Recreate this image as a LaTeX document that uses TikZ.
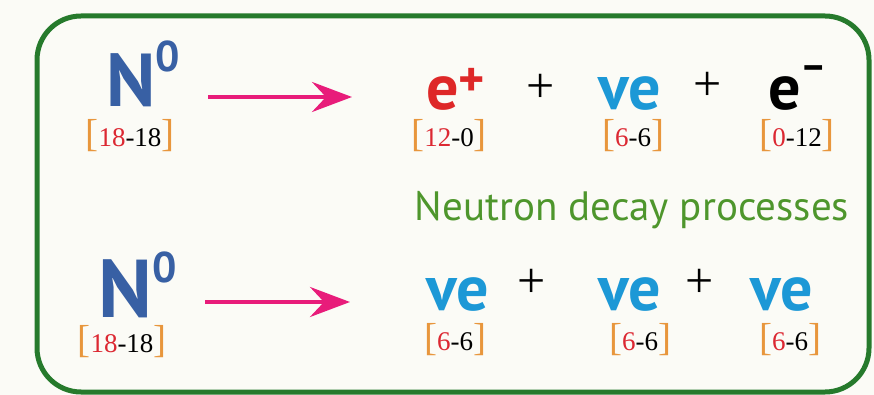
\documentclass[tikz,border=0pt]{standalone}
\usepackage{fontspec}
\setsansfont{PT Sans}
\setmainfont{Liberation Serif}
\usetikzlibrary{calc, positioning}
\usetikzlibrary{arrows.meta}

\definecolor{paper}{RGB}{251,251,246}
\definecolor{framegreen}{RGB}{38,122,44}
\definecolor{titlegreen}{RGB}{78,150,44}
\definecolor{nblue}{RGB}{56,96,164}
\definecolor{nucyan}{RGB}{28,152,214}
\definecolor{posred}{RGB}{222,40,40}
\definecolor{arrowpink}{RGB}{232,28,122}
\definecolor{brorange}{RGB}{232,150,60}
\definecolor{chred}{RGB}{220,40,50}

\newcommand{\charge}[2]{{\fontsize{39}{39}\selectfont\color{brorange}[}%
{\fontsize{27}{27}\selectfont\color{chred}#1\color{black}-#2}%
{\fontsize{39}{39}\selectfont\color{brorange}]}}
\newcommand{\neutron}{{\sffamily\bfseries\color{nblue}N\raisebox{35pt}{\fontsize{43}{43}\selectfont 0}}}
\newcommand{\nue}{{\sffamily\bfseries\color{nucyan}ve}}
\newcommand{\plussign}{{\rmfamily +}}

\tikzset{
  particle/.style={inner sep=0pt, anchor=base west, text depth=0pt, font=\fontsize{64}{64}\selectfont},
  chargelbl/.style={inner sep=0pt, anchor=base, text height=27pt},
  opsign/.style={inner sep=0pt, font=\fontsize{50}{50}\selectfont},
  decay/.style={line width=4pt, arrowpink, -{Stealth[length=40pt, width=30pt, inset=14pt]}},
  frame/.style={line width=5pt, framegreen, rounded corners=44pt}
}

\begin{document}
\begin{tikzpicture}[x=1pt, y=-1pt]
\fill[paper] (0,0) rectangle (874,395);
\useasboundingbox (0,0) rectangle (874,395);

\draw[frame] (37,16) rectangle (869,392);

% first decay
\node[particle, font=\fontsize{75}{75}\selectfont] (nA) at (106,107) {\neutron};
\node[chargelbl] (nAq) at (130,147) {\charge{18}{18}};
\coordinate (a1s) at (208,97);
\coordinate (a1e) at (352,97);
\draw[decay] (a1s) -- (a1e);

\node[particle] (pos) at (426,110) {{\sffamily\bfseries\color{posred}e\raisebox{13pt}{\fontsize{50}{50}\selectfont +}}};
\node[opsign] (pA) at (541,88) {\plussign};
\node[particle] (nuA) at (598,110) {\nue};
\node[opsign] (pB) at (708,86) {\plussign};
\node[particle] (ele) at (768,110) {{\sffamily\bfseries e\raisebox{30pt}{\fontsize{40}{40}\selectfont –}}};

\node[chargelbl] (posq) at (449,147) {\charge{12}{0}};
\node[chargelbl] (nuAq) at (633,147) {\charge{6}{6}};
\node[chargelbl] (eleq) at (797,147) {\charge{0}{12}};

\node[inner sep=0pt, anchor=base, text=titlegreen, font=\sffamily\fontsize{41}{41}\selectfont] (title) at (632,220) {Neutron decay processes};

% second decay
\node[particle, font=\fontsize{82}{82}\selectfont] (nB) at (98,317) {\neutron};
\node[chargelbl] (nBq) at (122,352) {\charge{18}{18}};
\coordinate (a2s) at (205,302);
\coordinate (a2e) at (350,302);
\draw[decay] (a2s) -- (a2e);

\node[particle] (nuB) at (426,310) {\nue};
\node[opsign] (pC) at (532,283) {\plussign};
\node[particle] (nuC) at (598,310) {\nue};
\node[opsign] (pD) at (700,283) {\plussign};
\node[particle] (nuD) at (750,310) {\nue};

\node[chargelbl] (nuBq) at (455,350) {\charge{6}{6}};
\node[chargelbl] (nuCq) at (640,350) {\charge{6}{6}};
\node[chargelbl] (nuDq) at (790,350) {\charge{6}{6}};
\end{tikzpicture}
\end{document}
